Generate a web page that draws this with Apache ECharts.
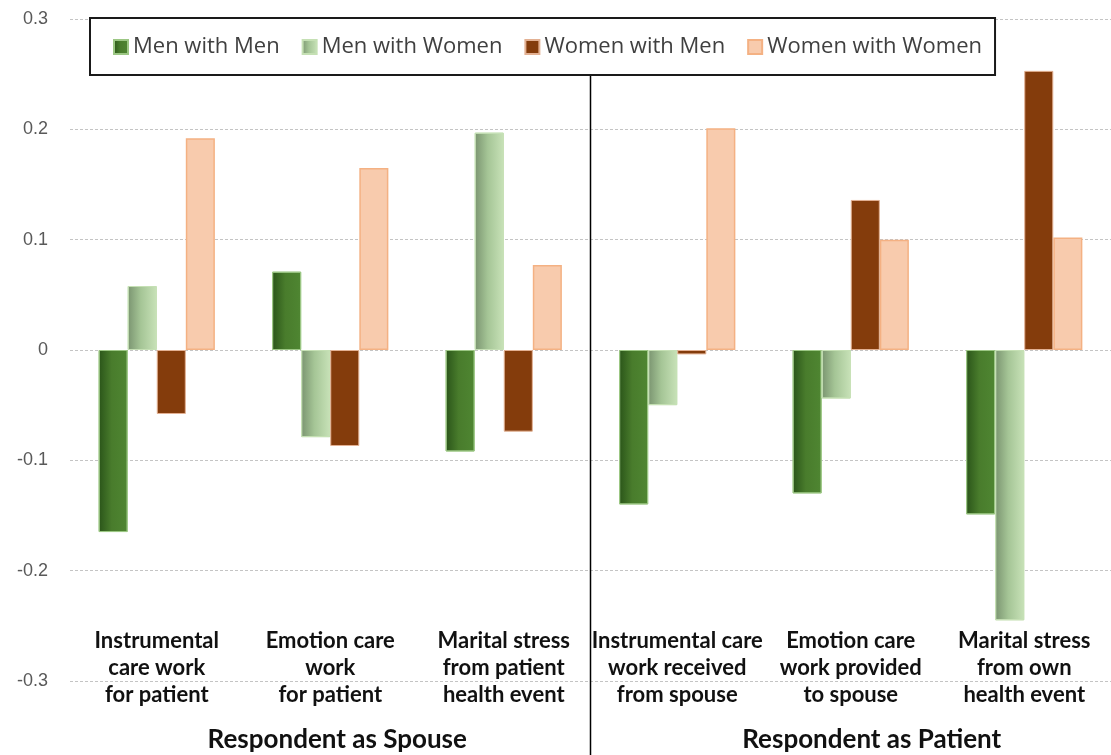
<!DOCTYPE html>
<html>
<head>
<meta charset="utf-8">
<script src="https://cdn.jsdelivr.net/npm/echarts@6.0.0/dist/echarts.min.js"></script>
<style>
  html, body { margin: 0; padding: 0; background: #fff; }
  #chart { width: 1111px; height: 755px; }
</style>
</head>
<body>
<div id="chart"></div>
<script>
const categories = [
  'Instrumental\ncare work\nfor patient',
  'Emotion care\nwork\nfor patient',
  'Marital stress\nfrom patient\nhealth event',
  'Instrumental care\nwork received\nfrom spouse',
  'Emotion care\nwork provided\nto spouse',
  'Marital stress\nfrom own\nhealth event'
]
const groups = ['Respondent as Spouse', 'Respondent as Patient']
const seriesNames = ['Men with Men', 'Men with Women', 'Women with Men', 'Women with Women']

const menWithMen     = [-0.165,  0.071, -0.092, -0.140, -0.130, -0.149]
const menWithWomen   = [ 0.058, -0.079,  0.197, -0.050, -0.044, -0.245]
const womenWithMen   = [-0.058, -0.087, -0.074, -0.004,  0.136,  0.253]
const womenWithWomen = [ 0.192,  0.165,  0.077,  0.201,  0.100,  0.102]

const yMin = -0.3, yMax = 0.3, yStep = 0.1

function grad(a, b, c) {
  return new echarts.graphic.LinearGradient(0, 0, 1, 0, [
    { offset: 0, color: a }, { offset: 0.45, color: b }, { offset: 1, color: c }
  ])
}

const styles = [
  { color: grad('#2a5419', '#497c2c', '#4f8632'), borderColor: '#9cc784', borderWidth: 1 },
  { color: grad('#7a9470', '#a5c596', '#c8e2b8'), borderColor: '#c5e0b4', borderWidth: 1 },
  { color: '#843c0c', borderColor: '#e3b193', borderWidth: 1 },
  { color: '#f8cbad', borderColor: '#f4b183', borderWidth: 1.5 }
]
const values = [menWithMen, menWithWomen, womenWithMen, womenWithWomen]

// nudge the group titles a little to the right, like the original
const groupShift = [14, 42]

const chart = echarts.init(document.getElementById('chart'), null, { renderer: 'canvas' })

chart.setOption({
  backgroundColor: '#fff',
  animation: false,
  grid: { left: 70, right: 0, top: 19, bottom: 74, containLabel: false },
  legend: {
    data: seriesNames,
    left: 90, top: 18,
    padding: [18, 13, 17, 23],
    itemGap: 22, itemWidth: 14, itemHeight: 14,
    icon: 'rect',
    backgroundColor: '#fff',
    borderColor: '#1a1a1a', borderWidth: 2,
    textStyle: { color: '#404040', fontSize: 22, fontFamily: 'Open Sans' },
    z: 10
  },
  xAxis: [{
    type: 'category', data: categories,
    position: 'bottom', offset: -62,
    axisLine: { show: false }, axisTick: { show: false },
    axisLabel: {
      interval: 0, margin: 8,
      color: '#111', fontSize: 22, fontWeight: 'bold', fontFamily: 'Lato',
      lineHeight: 27, verticalAlign: 'top'
    },
    splitLine: { show: false }
  }, {
    type: 'category',
    data: groups.map((g, i) => ({ value: g, textStyle: { padding: [0, 0, 0, groupShift[i]] } })),
    position: 'bottom', offset: 0,
    axisLine: { show: false }, axisTick: { show: false },
    axisLabel: {
      interval: 0, margin: 46,
      color: '#111', fontSize: 26, fontWeight: 'bold', fontFamily: 'Lato',
      verticalAlign: 'top'
    },
    splitLine: { show: false }
  }],
  yAxis: {
    type: 'value', min: yMin, max: yMax, interval: yStep,
    axisLine: { show: false }, axisTick: { show: false },
    axisLabel: {
      margin: 22, color: '#595959', fontSize: 18, fontFamily: 'Liberation Sans',
      formatter: v => Math.abs(v) < 1e-9 ? '0' : (Math.round(v * 10) / 10).toFixed(1)
    },
    splitLine: { lineStyle: { color: '#c4c4c4', type: [3, 2], width: 1 } }
  },
  series: seriesNames.map((name, i) => ({
    name, type: 'bar', xAxisIndex: 0,
    data: values[i],
    barGap: '0%', barCategoryGap: '33%',
    itemStyle: styles[i]
  }))
})

// divider between the two groups of categories
const xa = chart.convertToPixel({ xAxisIndex: 0 }, categories[2])
const xb = chart.convertToPixel({ xAxisIndex: 0 }, categories[3])
const yTop = chart.convertToPixel({ yAxisIndex: 0 }, yMax)
chart.setOption({
  graphic: [{
    type: 'line', z: 1,
    shape: { x1: (xa + xb) / 2, y1: yTop, x2: (xa + xb) / 2, y2: 755 },
    style: { stroke: '#000', lineWidth: 1.5 }
  }]
})
</script>
</body>
</html>
